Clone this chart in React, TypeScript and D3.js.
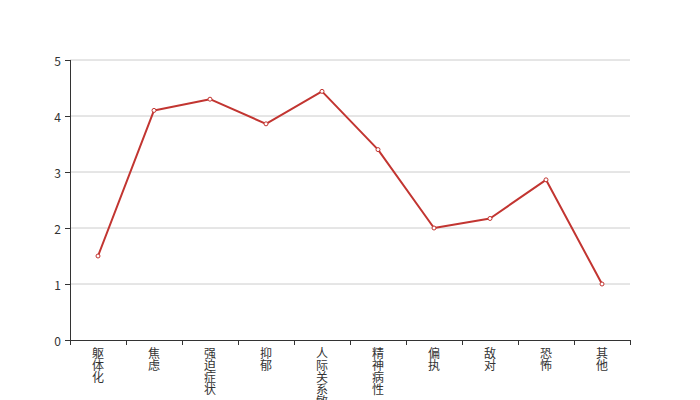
import React from "react";
import * as d3 from "d3";

const categories = ["躯体化", "焦虑", "强迫症状", "抑郁", "人际关系敏感", "精神病性", "偏执", "敌对", "恐怖", "其他"];
const values = [1.5, 4.1, 4.3, 3.86, 4.44, 3.4, 2.0, 2.17, 2.86, 1.0];
const yTicks = [0, 1, 2, 3, 4, 5];

const W = 700, H = 400;
const left = 70, right = 630, top = 60, bottom = 340;
const font = "'Noto Sans CJK SC', 'Noto Sans', sans-serif";

export default function App() {
  const x = d3.scaleBand<string>().domain(categories).range([left, right]).padding(0);
  const y = d3.scaleLinear().domain([0, 5]).range([bottom, top]);
  const line = d3.line<number>()
    .x((_, i) => (x(categories[i]) as number) + x.bandwidth() / 2)
    .y((d) => y(d));
  const boundaries = categories.map((c) => x(c) as number).concat([right]);
  return (
    <svg width={W} height={H} style={{ position: "absolute", left: 0, top: 0 }}>
      {yTicks.map((t) => (
        <g key={t}>
          {t > 0 && <line x1={left} x2={right} y1={y(t)} y2={y(t)} stroke="#ccc" strokeWidth={1} />}
          <line x1={left - 5} x2={left} y1={y(t) + 0.5} y2={y(t) + 0.5} stroke="#333" />
          <text x={left - 9} y={y(t)} textAnchor="end" dominantBaseline="central" fontSize={12} fill="#333" fontFamily={font}>{t}</text>
        </g>
      ))}
      <line x1={left + 0.5} x2={left + 0.5} y1={top} y2={bottom} stroke="#333" />
      <line x1={left} x2={right} y1={bottom + 0.5} y2={bottom + 0.5} stroke="#333" />
      {boundaries.map((b, i) => (
        <line key={i} x1={b + 0.5} x2={b + 0.5} y1={bottom} y2={bottom + 5} stroke="#333" />
      ))}
      {categories.map((c) => {
        const cx = (x(c) as number) + x.bandwidth() / 2;
        return (
          <text key={c} fontSize={12} fill="#333" fontFamily={font} textAnchor="middle">
            {Array.from(c).map((ch, j) => (
              <tspan key={j} x={cx} y={358 + j * 12}>{ch}</tspan>
            ))}
          </text>
        );
      })}
      <path d={line(values) || ""} fill="none" stroke="#c23531" strokeWidth={2} strokeLinejoin="bevel" />
      {values.map((v, i) => (
        <circle key={i} cx={(x(categories[i]) as number) + x.bandwidth() / 2} cy={y(v)} r={2} fill="#fff" stroke="#c23531" strokeWidth={1} />
      ))}
    </svg>
  );
}
